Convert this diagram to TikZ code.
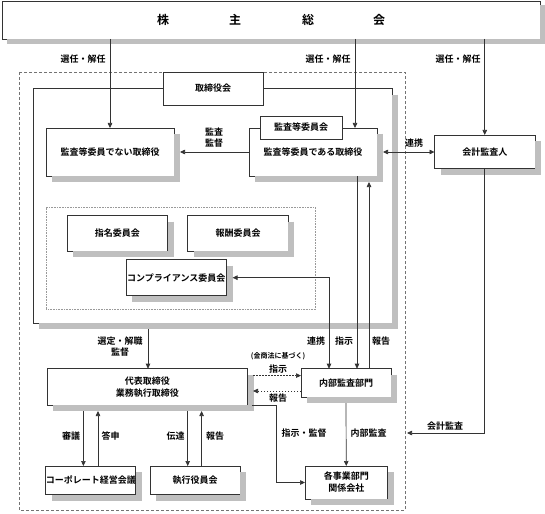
\documentclass[tikz,border=0pt]{standalone}
\usepackage{fontspec}
\newfontfamily\cjk[BoldFont={Noto Sans CJK JP Bold}]{Noto Sans CJK JP}
\usetikzlibrary{arrows.meta}
\newcommand\boxnode[6]{%
  \node[box,minimum width=#4pt,minimum height=#5pt] (#1) at (#2,#3) {#6};
  \draw[shadowline] (#2+#4/2+3,#3-#5/2+6) -- (#2+#4/2+3,#3+#5/2+3) -- (#2-#4/2+6,#3+#5/2+3);}
\begin{document}
\begin{tikzpicture}[x=1pt,y=-1pt,
  font=\cjk\bfseries\fontsize{9}{11}\selectfont,
  every node/.style={inner sep=0pt,outer sep=0pt},
  shadowline/.style={draw=black!25,line width=6pt,line join=miter,line cap=butt},
  box/.style={draw=black!80,fill=white,line width=0.8pt,align=center},
  lbl/.style={align=center},
  ln/.style={draw=black!80,line width=0.7pt},
  arr/.style={ln,-{Triangle[length=5pt,width=4.5pt]}},
  darr/.style={ln,{Triangle[length=5pt,width=4.5pt]}-{Triangle[length=5pt,width=4.5pt]}},
  dotarr/.style={arr,dash pattern=on 1.5pt off 1.5pt}
]
\useasboundingbox (0,0) rectangle (545,513);

% outer dashed frame
\draw[black!55,line width=0.8pt,dash pattern=on 3pt off 2pt] (19,72) rectangle (405,510);

% top box
\node[box,minimum width=537.5pt,minimum height=38pt] (top) at (271.6,20) {};
\draw[draw=black!25,line width=5pt,line join=miter] (542.4,5) -- (542.4,41.5) -- (6.8,41.5);
\node[font=\cjk\bfseries\fontsize{12}{14}\selectfont] (t1) at (163,20) {株};
\node[font=\cjk\bfseries\fontsize{12}{14}\selectfont] (t2) at (235,20) {主};
\node[font=\cjk\bfseries\fontsize{12}{14}\selectfont] (t3) at (308,20) {総};
\node[font=\cjk\bfseries\fontsize{12}{14}\selectfont] (t4) at (379,20) {会};

% board box
\boxnode{board}{212.5}{206}{359}{234.8}{}
\node[box,minimum width=100pt,minimum height=33pt] (torishimari) at (213,88.5) {取締役会};

% directors
\boxnode{denai}{110}{152}{128}{48}{監査等委員でない取締役}
\boxnode{deru}{313}{152}{128}{48}{監査等委員である取締役}
\node[box,minimum width=82pt,minimum height=23pt] (tab) at (301,127.5) {監査等委員会};
\boxnode{kaikei}{484.75}{151.75}{100.5}{33.5}{会計監査人}

% committees
\draw[black!40,line width=0.8pt,dash pattern=on 0.8pt off 0.8pt] (46,207.6) rectangle (315.6,309.5);
\boxnode{shimei}{117.25}{233.5}{100.5}{35.8}{指名委員会}
\boxnode{hoshu}{238.1}{233.5}{100.5}{35.8}{報酬委員会}
\boxnode{comp}{176.3}{277.7}{100.5}{35.8}{コンプライアンス委員会}

% executive
\boxnode{daihyo}{147.25}{386.85}{200.5}{36.3}{代表取締役\\[1pt]業務執行取締役}
\boxnode{naibu}{346}{382.85}{90}{28.3}{内部監査部門}
\boxnode{corp}{90.75}{480.35}{89.5}{28.7}{コーポレート経営会議}
\boxnode{shikko}{195}{480.35}{90}{28.7}{執行役員会}
\boxnode{kaku}{346.25}{482.5}{82.5}{33}{各事業部門\\[1pt]関係会社}

% helper coordinates
\coordinate (hokokuEnd) at (369,182);
\coordinate (senteiStart) at (148,329);
\coordinate (dshijiStart) at (253,375.6);
\coordinate (dhokokuEnd) at (253,391);
\coordinate (kantokuStart) at (252,405);
\coordinate (kantokuBend) at (276,405);
\coordinate (naibuStart) at (346,403);
\coordinate (kaikeiEnd) at (407,433);

% connectors
\draw[arr] (top.south -| denai.north) -- (denai.north);
\draw[arr] (top.south -| 355,0) -- (deru.north -| 355,0);
\draw[arr] (top.south -| kaikei.north) -- (kaikei.north);
\draw[arr] (deru.west) -- ([xshift=6pt]denai.east);
\draw[darr] ([xshift=6pt]deru.east) -- (kaikei.west |- deru.east);
\draw[darr] (naibu.north -| 329,0) |- ([xshift=6pt]comp.east);
\draw[arr] (deru.south -| 357,0) -- (naibu.north -| 357,0);
\draw[arr] (naibu.north -| 369,0) -- (hokokuEnd);
\draw[arr] (senteiStart) -- (daihyo.north -| senteiStart);
\draw[dotarr] (dshijiStart) -- (naibu.west |- dshijiStart);
\draw[dotarr] (naibu.west |- dhokokuEnd) -- (dhokokuEnd);
\draw[arr] (kantokuStart) -- (kantokuBend) |- (kaku.west);
\draw[arr] (naibuStart) -- (kaku.north);
\draw[arr] (kaikei.south) |- (kaikeiEnd);
\draw[arr] (83.4,411) -- (corp.north -| 83.4,0);
\draw[arr] (corp.north -| 98,0) -- (98,411);
\draw[arr] (187.7,411) -- (shikko.north -| 187.7,0);
\draw[arr] (shikko.north -| 201.6,0) -- (201.6,411);

% labels
\node[lbl] (l1) at (83,59) {選任・解任};
\node[lbl] (l2) at (328,59) {選任・解任};
\node[lbl] (l3) at (458,59) {選任・解任};
\node[lbl] (l4) at (214,138) {監査\\監督};
\node[lbl] (l5) at (414,143) {連携};
\node[lbl] (l6) at (316,341) {連携};
\node[lbl] (l7) at (344,341) {指示};
\node[lbl] (l8) at (381,341) {報告};
\node[lbl] (l9) at (120,347) {選定・解職\\監督};
\node[lbl,font=\cjk\bfseries\fontsize{7}{8}\selectfont] (l10) at (278,356.5) {(金商法に基づく)};
\node[lbl] (l11) at (278,368.7) {指示};
\node[lbl] (l12) at (278,398) {報告};
\node[lbl] (l13) at (445,426) {会計監査};
\node[lbl] (l14) at (71,435.6) {審議};
\node[lbl] (l15) at (110.5,435.6) {答申};
\node[lbl] (l16) at (175.5,435.6) {伝達};
\node[lbl] (l17) at (215,435.6) {報告};
\node[lbl] (l18) at (304,433) {指示・監督};
\node[lbl] (l19) at (368.5,433) {内部監査};
\end{tikzpicture}
\end{document}
